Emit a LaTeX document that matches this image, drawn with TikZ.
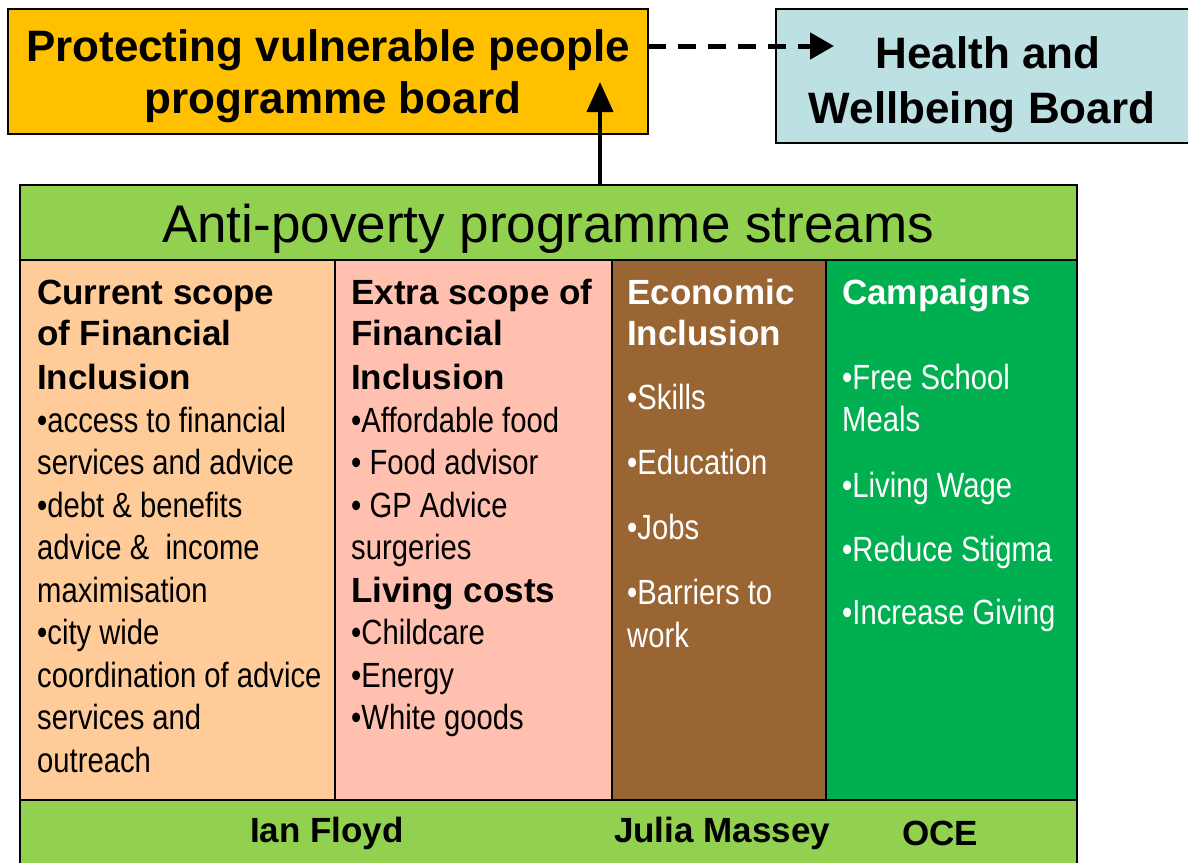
\documentclass[tikz,border=0pt]{standalone}
\usepackage{fontspec}
\setmainfont{Liberation Sans}
\newfontfamily\narrowfont{Liberation Sans}[FakeStretch=0.835]
\usetikzlibrary{arrows.meta}
\definecolor{pvpc}{HTML}{FFC000}
\definecolor{hwbc}{HTML}{BDE0E3}
\definecolor{apgreen}{HTML}{92D050}
\definecolor{colA}{HTML}{FFCC99}
\definecolor{colB}{HTML}{FFC0B0}
\definecolor{colC}{HTML}{996633}
\definecolor{colD}{HTML}{00B050}
\begin{document}
\begin{tikzpicture}[x=1pt,y=-1pt,
  panel/.style={draw=black, line width=2pt, anchor=north west, inner sep=0pt, outer sep=0pt},
  head/.style={anchor=base west, inner sep=0pt, font=\fontsize{35}{42}\selectfont\bfseries},
  item/.style={anchor=base west, inner sep=0pt, font=\fontsize{35}{42}\selectfont\narrowfont},
  foot/.style={inner sep=0pt, font=\fontsize{35}{42}\selectfont\bfseries},
  bigtxt/.style={anchor=base, inner sep=0pt, font=\fontsize{44}{52}\selectfont\bfseries}]
\useasboundingbox (0,0) rectangle (1188,862);
% top boxes
\node[panel, fill=pvpc, minimum width=640pt, minimum height=125pt] (pvp) at (8,9) {};
\node[bigtxt] (pvp1) at (328,61) {Protecting vulnerable people};
\node[bigtxt] (pvp2) at (333,113) {programme board};
\node[panel, fill=hwbc, minimum width=420pt, minimum height=134pt] (hwb) at (776,9) {};
\node[bigtxt] (hwb1) at (988,68) {Health and};
\node[bigtxt] (hwb2) at (982,123) {Wellbeing Board};
% outer green
\node[panel, fill=apgreen, minimum width=1057pt, minimum height=690pt] (outer) at (20,185) {};
\node[inner sep=0pt, font=\fontsize{53}{60}\selectfont] (title) at (548,229) {Anti-poverty programme streams};
% columns
\node[panel, fill=colA, minimum width=315pt, minimum height=540pt] (colA) at (20,260) {};
\node[panel, fill=colB, minimum width=277pt, minimum height=540pt] (colB) at (335,260) {};
\node[panel, fill=colC, minimum width=214pt, minimum height=540pt] (colC) at (612,260) {};
\node[panel, fill=colD, minimum width=251pt, minimum height=540pt] (colD) at (826,260) {};
% column 1
\foreach \yy/\tt [count=\i] in {304.5/{Current scope}, 345/{of Financial}, 389/{Inclusion}}
  \node[head] (a\i) at (37,\yy) {\tt};
\foreach \yy/\tt [count=\i] in {432/{•access to financial}, 474.5/{services and advice}, 517/{•debt \& benefits},
  559.5/{advice \&\ \ income}, 602/{maximisation}, 644.5/{•city wide}, 687/{coordination of advice},
  729.5/{services and}, 772/{outreach}}
  \node[item] (ai\i) at (37,\yy) {\tt};
% column 2
\foreach \yy/\tt [count=\i] in {304.5/{Extra scope of}, 345/{Financial}, 389/{Inclusion}, 602/{Living costs}}
  \node[head] (b\i) at (351,\yy) {\tt};
\foreach \yy/\tt [count=\i] in {432/{•Affordable food}, 474.5/{• Food advisor}, 517/{• GP Advice},
  559.5/{surgeries}, 644.5/{•Childcare}, 687/{•Energy}, 729.5/{•White goods}}
  \node[item] (bi\i) at (351,\yy) {\tt};
% column 3
\foreach \yy/\tt [count=\i] in {304.5/{Economic}, 345/{Inclusion}}
  \node[head, text=white] (c\i) at (627,\yy) {\tt};
\foreach \yy/\tt [count=\i] in {409/{•Skills}, 474/{•Education}, 539/{•Jobs}, 604/{•Barriers to}, 647/{work}}
  \node[item, text=white] (ci\i) at (627,\yy) {\tt};
% column 4
\node[head, text=white] (d1) at (842,304.5) {Campaigns};
\foreach \yy/\tt [count=\i] in {389/{•Free School}, 431/{Meals}, 497/{•Living Wage}, 561/{•Reduce Stigma}, 624/{•Increase Giving}}
  \node[item, text=white] (di\i) at (842,\yy) {\tt};
% footer
\node[foot] (f1) at (327,833) {Ian Floyd};
\node[foot] (f2) at (722,833) {Julia Massey};
\node[foot] (f3) at (940,833) {OCE};
% arrows
\coordinate (uptip) at (600,82);
\draw[line width=4pt, -{Triangle[length=30pt,width=26pt]}] (outer.north -| uptip) -- (uptip);
\coordinate (dtip) at (834,46);
\draw[line width=5pt, dash pattern=on 18pt off 12pt, -{Triangle[length=24pt,width=26pt]}] (pvp.east |- dtip) -- (dtip);
\end{tikzpicture}
\end{document}
